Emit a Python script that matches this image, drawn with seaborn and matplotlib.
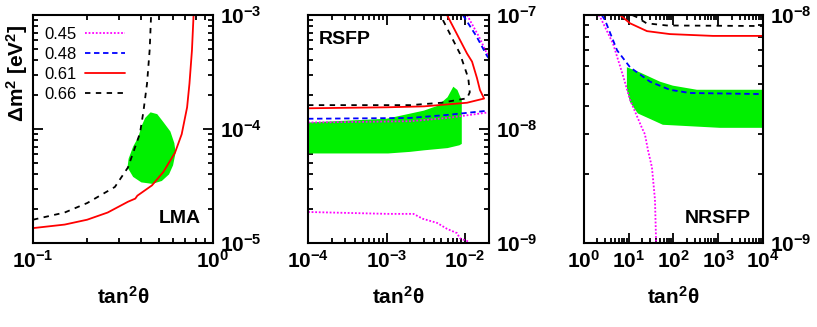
import numpy as np
import matplotlib
matplotlib.use("Agg")
import matplotlib.pyplot as plt
import seaborn as sns
from matplotlib.lines import Line2D
from matplotlib.ticker import LogLocator, FixedLocator, FuncFormatter, NullFormatter

# contour levels (legend)
levels = ["0.45", "0.48", "0.61", "0.66"]
colors = ["#ff00ff", "#0000ff", "#ff0000", "#000000"]
styles = [(0, (1, 1)), (0, (3, 2)), "-", (0, (3, 3))]

# ---- LMA panel ----
lma_red_x = [0.1, 0.15, 0.2, 0.26, 0.337, 0.37, 0.38, 0.458, 0.53, 0.615, 0.67, 0.718, 0.74, 0.764, 0.78]
lma_red_y = [1.35e-5, 1.45e-5, 1.6e-5, 1.85e-5, 2.3e-5, 2.45e-5, 2.6e-5, 3.2e-5, 4.2e-5, 6.2e-5, 9e-5, 1.55e-4, 2.5e-4, 4.9e-4, 1e-3]
lma_black_x = [0.1, 0.15, 0.2, 0.285, 0.337, 0.393, 0.41, 0.43, 0.445, 0.453]
lma_black_y = [1.6e-5, 1.85e-5, 2.24e-5, 3.1e-5, 4.6e-5, 9.2e-5, 1.4e-4, 2.5e-4, 5e-4, 1e-3]
lma_green_x = [0.335, 0.34, 0.36, 0.385, 0.40, 0.42, 0.45, 0.49, 0.53, 0.58, 0.61, 0.62, 0.60, 0.57, 0.52, 0.46, 0.40, 0.36]
lma_green_y = [4.6e-5, 5.5e-5, 7.0e-5, 8.5e-5, 1.05e-4, 1.25e-4, 1.4e-4, 1.35e-4, 1.15e-4, 9.5e-5, 7.5e-5, 6.2e-5, 4.8e-5, 4.0e-5, 3.5e-5, 3.3e-5, 3.4e-5, 3.8e-5]

# ---- RSFP panel ----
rs_black_x = [1e-4, 2e-3, 5e-3, 1.06e-2, 1.15e-2, 1.1e-2, 8.6e-3, 5.25e-3, 5.1e-3]
rs_black_y = [1.62e-8, 1.62e-8, 1.7e-8, 1.86e-8, 2.1e-8, 2.8e-8, 4.6e-8, 9e-8, 1e-7]
rs_red_x = [1e-4, 1e-3, 3e-3, 1.06e-2, 1.75e-2, 1.55e-2, 1.42e-2, 1.23e-2, 1.06e-2, 5.9e-3]
rs_red_y = [1.52e-8, 1.55e-8, 1.58e-8, 1.7e-8, 1.85e-8, 2.2e-8, 2.8e-8, 3.9e-8, 4.6e-8, 1e-7]
rs_blue_lo_x = [1e-4, 2e-3, 6e-3, 2e-2]
rs_blue_lo_y = [1.23e-8, 1.25e-8, 1.33e-8, 1.45e-8]
rs_blue_hi_x = [9.4e-3, 1.4e-2, 1.9e-2, 2e-2]
rs_blue_hi_y = [1e-7, 6.5e-8, 4.4e-8, 4.2e-8]
rs_mag_mid_x = [1e-4, 2e-3, 6e-3, 2e-2]
rs_mag_mid_y = [1.14e-8, 1.17e-8, 1.25e-8, 1.4e-8]
rs_mag_hi_x = [1.06e-2, 1.5e-2, 1.9e-2, 2e-2]
rs_mag_hi_y = [1e-7, 6.5e-8, 4.6e-8, 4.5e-8]
rs_mag_lo_x = [1e-4, 1.04e-3, 2.2e-3, 2.9e-3, 4.4e-3, 5.9e-3, 7.9e-3, 8.6e-3, 1.1e-2]
rs_mag_lo_y = [1.87e-9, 1.8e-9, 1.8e-9, 1.63e-9, 1.5e-9, 1.33e-9, 1.22e-9, 1.1e-9, 1.03e-9]
rs_green_x = [1e-4, 1e-3, 3e-3, 4.5e-3, 6e-3, 7.1e-3, 8e-3, 9.1e-3, 9.1e-3, 8.5e-3, 6e-3, 3e-3, 2e-3, 1.05e-3, 1e-4]
rs_green_y = [1.14e-8, 1.23e-8, 1.45e-8, 1.6e-8, 1.9e-8, 2.35e-8, 2.2e-8, 1.78e-8, 7.4e-9, 7.2e-9, 6.8e-9, 6.5e-9, 6.3e-9, 6.1e-9, 6.1e-9]

# ---- NRSFP panel ----
nr_red_x = [6.4, 10.7, 25.6, 83, 760, 1e4]
nr_red_y = [1e-8, 9.2e-9, 8.5e-9, 8.25e-9, 8.1e-9, 8.1e-9]
nr_black_x = [12, 15, 25, 71, 1e4]
nr_black_y = [1e-8, 9.8e-9, 9.2e-9, 9.0e-9, 8.95e-9]
nr_blue_x = [2.5, 2.95, 5.5, 10.7, 30, 83, 234, 1e4]
nr_blue_y = [1e-8, 9.5e-9, 7.0e-9, 5.9e-9, 5.1e-9, 4.7e-9, 4.55e-9, 4.5e-9]
nr_mag_x = [2.1, 2.3, 4.45, 7.5, 10.7, 19.7, 23, 27, 33, 38.6, 40.6, 41]
nr_mag_y = [1e-8, 9.8e-9, 7.5e-9, 5.4e-9, 4.25e-9, 3.2e-9, 3.0e-9, 2.55e-9, 2.15e-9, 1.55e-9, 1.07e-9, 1e-9]
nr_green_x = [9.1, 17.8, 50, 97, 335, 1e4, 1e4, 1090, 58, 30, 16, 10.7, 9.1]
nr_green_y = [5.9e-9, 5.6e-9, 5.1e-9, 4.9e-9, 4.7e-9, 4.7e-9, 3.2e-9, 3.2e-9, 3.3e-9, 3.5e-9, 3.7e-9, 4.15e-9, 4.7e-9]

green = "#00f000"

sns.set_style("ticks")
plt.rcParams["font.family"] = ["Liberation Sans", "DejaVu Sans"]
plt.rcParams["text.color"] = "black"
plt.rcParams["axes.labelcolor"] = "black"
plt.rcParams["mathtext.fontset"] = "custom"
plt.rcParams["mathtext.rm"] = "Liberation Sans"
plt.rcParams["mathtext.bf"] = "Liberation Sans:bold"
plt.rcParams["mathtext.it"] = "Liberation Sans:italic"


def line(ax, x, y, i):
    sns.lineplot(x=x, y=y, ax=ax, sort=False, estimator=None, color=colors[i],
                 linestyle=styles[i], linewidth=1.3)


def decades(lo, hi):
    # major ticks at the powers of ten inside the axis range
    return [10.0 ** k for k in range(int(np.ceil(np.log10(lo) - 1e-9)),
                                     int(np.floor(np.log10(hi) + 1e-9)) + 1)]


def style_axis(ax, xlim, ylim, name, name_pos):
    ax.set_xscale("log")
    ax.set_yscale("log")
    ax.set_xlim(*xlim)
    ax.set_ylim(*ylim)
    fmt = FuncFormatter(lambda v, p: r"$\mathbf{10^{%d}}$" % int(round(np.log10(v))))
    for a, lim in ((ax.xaxis, xlim), (ax.yaxis, ylim)):
        a.set_major_locator(FixedLocator(decades(*lim)))
        a.set_minor_locator(LogLocator(base=10, subs=np.arange(2, 10), numticks=30))
        a.set_major_formatter(fmt)
        a.set_minor_formatter(NullFormatter())
    ax.tick_params(which="both", direction="in", top=True, right=True,
                   left=True, bottom=True, labelleft=False, labelright=True,
                   labelsize=15, width=1.3, pad=5, color="black", labelcolor="black")
    ax.tick_params(which="major", length=7)
    ax.tick_params(which="minor", length=3.5)
    for s in ax.spines.values():
        s.set_linewidth(1.5)
        s.set_color("black")
    ax.set_xlabel("tan$^\\mathbf{2}$\u03b8", fontsize=15, fontweight="bold", labelpad=10)
    ax.set_ylabel("")
    ax.text(name_pos[0], name_pos[1], name, transform=ax.transAxes, fontsize=14,
            fontweight="bold", ha=name_pos[2], va=name_pos[3], color="black")


fig = plt.figure(figsize=(8.17, 3.27), dpi=100)
ax1 = fig.add_axes([0.0404, 0.257, 0.2203, 0.697])
ax2 = fig.add_axes([0.377, 0.257, 0.2215, 0.697])
ax3 = fig.add_axes([0.7148, 0.257, 0.219, 0.697])

# LMA
ax1.fill(lma_green_x, lma_green_y, color=green, lw=0)
line(ax1, lma_black_x, lma_black_y, 3)
line(ax1, lma_red_x, lma_red_y, 2)
style_axis(ax1, (0.1, 1.0), (1e-5, 1e-3), "LMA", (0.93, 0.07, "right", "bottom"))
handles = [Line2D([], [], color=colors[i], linestyle=styles[i], linewidth=1.3) for i in range(4)]
ax1.legend(handles, levels, loc="upper left", frameon=False, markerfirst=False,
           handlelength=2.4, handletextpad=0.5, fontsize=12, labelspacing=0.3,
           bbox_to_anchor=(0.0, 1.0), borderaxespad=0.3, labelcolor="black")

# RSFP
ax2.fill(rs_green_x, rs_green_y, color=green, lw=0)
line(ax2, rs_mag_lo_x, rs_mag_lo_y, 0)
line(ax2, rs_mag_mid_x, rs_mag_mid_y, 0)
line(ax2, rs_mag_hi_x, rs_mag_hi_y, 0)
line(ax2, rs_blue_lo_x, rs_blue_lo_y, 1)
line(ax2, rs_blue_hi_x, rs_blue_hi_y, 1)
line(ax2, rs_red_x, rs_red_y, 2)
line(ax2, rs_black_x, rs_black_y, 3)
style_axis(ax2, (1e-4, 2.02e-2), (1e-9, 1e-7), "RSFP", (0.06, 0.93, "left", "top"))

# NRSFP
ax3.fill(nr_green_x, nr_green_y, color=green, lw=0)
line(ax3, nr_mag_x, nr_mag_y, 0)
line(ax3, nr_blue_x, nr_blue_y, 1)
line(ax3, nr_red_x, nr_red_y, 2)
line(ax3, nr_black_x, nr_black_y, 3)
style_axis(ax3, (1, 1e4), (1e-9, 1e-8), "NRSFP", (0.93, 0.07, "right", "bottom"))

fig.text(0.021, 0.775, "\u0394m$^\\mathbf{2}$ [eV$^\\mathbf{2}$]", rotation=90,
         fontsize=15, fontweight="bold", ha="center", va="center", color="black")

fig.savefig("out.png", dpi=100)
